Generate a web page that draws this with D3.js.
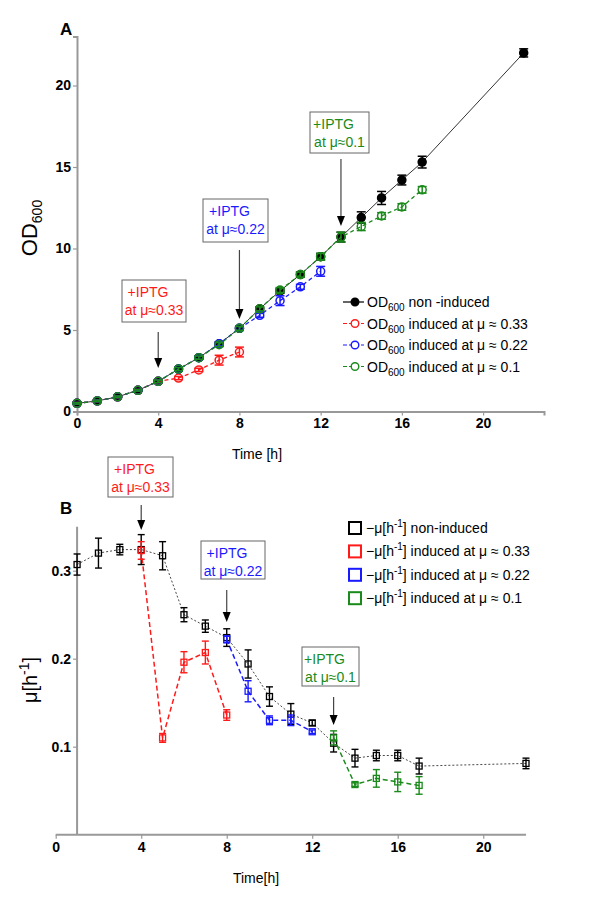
<!DOCTYPE html>
<html><head><meta charset="utf-8">
<script src="https://cdn.jsdelivr.net/npm/d3@7"></script>
<style>body{margin:0;background:#fff}svg{display:block;font-family:Arial,"Liberation Sans",sans-serif}</style>
</head><body>
<svg id="c" width="600" height="898"></svg>
<script>
// ---------- Panel A data ----------
const timeNonA = [0,1,2,3,4,5,6,7,8,9,10,11,12,13,14,15,16,17,22];
const odNon    = [0.5,0.65,0.9,1.3,1.85,2.6,3.3,4.15,5.1,6.3,7.4,8.4,9.5,10.7,11.9,13.1,14.2,15.3,22.0];
const odNonErr = [0.05,0.05,0.05,0.05,0.08,0.1,0.1,0.12,0.12,0.12,0.15,0.15,0.2,0.3,0.35,0.4,0.3,0.36,0.25];
const timeR_A = [0,1,2,3,4,5,6,7,8];
const odR     = [0.5,0.65,0.9,1.3,1.85,2.05,2.55,3.15,3.65];
const odRErr  = [0.05,0.05,0.05,0.05,0.08,0.1,0.1,0.3,0.3];
const timeB_A = [0,1,2,3,4,5,6,7,8,9,10,11,12];
const odB     = [0.5,0.65,0.9,1.3,1.85,2.6,3.3,4.15,5.1,5.9,6.8,7.65,8.6];
const odBErr  = [0.05,0.05,0.05,0.05,0.08,0.1,0.1,0.12,0.12,0.12,0.3,0.15,0.3];
const timeG_A = [0,1,2,3,4,5,6,7,8,9,10,11,12,13,14,15,16,17];
const odG     = [0.5,0.65,0.9,1.3,1.85,2.6,3.3,4.1,5.1,6.3,7.45,8.4,9.5,10.7,11.35,12.0,12.55,13.6];
const odGErr  = [0.05,0.05,0.05,0.05,0.08,0.1,0.1,0.12,0.12,0.12,0.15,0.15,0.2,0.3,0.25,0.2,0.2,0.2];
const xTicksA = [0,4,8,12,16,20];
const yTicksA = [0,5,10,15,20];
const legendA = [" non -induced"," induced at \u03bc \u2248 0.33"," induced at \u03bc \u2248 0.22"," induced at \u03bc \u2248 0.1"];

// ---------- Panel B data ----------
const timeNonB = [1,2,3,4,5,6,7,8,9,10,11,12,13,14,15,16,17,22];
const muNon    = [0.307,0.320,0.324,0.324,0.317,0.250,0.237,0.224,0.194,0.157,0.137,0.127,0.104,0.087,0.090,0.090,0.078,0.081];
const muNonErr = [0.012,0.017,0.006,0.017,0.016,0.008,0.007,0.010,0.016,0.011,0.012,0.003,0.010,0.010,0.006,0.006,0.009,0.006];
const timeR_B = [4,5,6,7,8];
const muR     = [0.323,0.110,0.196,0.207,0.136];
const muRErr  = [0.010,0.005,0.012,0.013,0.006];
const timeB_B = [8,9,10,11,12];
const muB     = [0.222,0.163,0.130,0.130,0.117];
const muBErr  = [0.004,0.012,0.005,0.006,0.002];
const timeG_B = [13,14,15,16,17];
const muG     = [0.110,0.057,0.064,0.060,0.056];
const muGErr  = [0.008,0.002,0.010,0.011,0.010];
const xTicksB = [0,4,8,12,16,20];
const yTicksB = [0.1,0.2,0.3];
const legendB = [" non-induced"," induced at \u03bc \u2248 0.33"," induced at \u03bc \u2248 0.22"," induced at \u03bc \u2248 0.1"];

const colors = ["#000000","#ff1a1a","#1a1aff","#1a8a1a"];
const annotLabels = ["at \u03bc\u22480.33","at \u03bc\u22480.22","at \u03bc\u22480.1"];

const svg = d3.select("#c");
const axisColor = "#999";

function zip(t,v,e){return t.map((d,i)=>({t:d,v:v[i],e:e[i]}));}

// ================= PANEL A =================
const xA = d3.scaleLinear().domain([0,23]).range([77,544]);
const yA = d3.scaleLinear().domain([0,23]).range([411.5,36.6]);
const gA = svg.append("g");

const axXA = gA.append("g").attr("transform","translate(0,411.5)")
  .call(d3.axisBottom(xA).tickValues(xTicksA).tickSize(4).tickPadding(3));
const axYA = gA.append("g").attr("transform","translate(77,0)")
  .call(d3.axisLeft(yA).tickValues(yTicksA).tickSize(4).tickPadding(2));
[axXA,axYA].forEach(a=>{
  a.select(".domain").attr("stroke",axisColor).attr("stroke-width",2);
  a.selectAll(".tick line").attr("stroke",axisColor).attr("stroke-width",1.2);
  a.selectAll(".tick text").attr("fill","#000").attr("font-size",14).attr("font-weight","bold").attr("font-family","Arial,'Liberation Sans'");
});

gA.append("text").attr("x",60).attr("y",35).attr("font-size",17).attr("font-weight","bold").text("A");
gA.append("text").attr("x",257).attr("y",459).attr("text-anchor","middle").attr("font-size",14).text("Time [h]");
const ylA = gA.append("text").attr("transform","translate(37,228) rotate(-90)").attr("text-anchor","middle").attr("font-size",22);
ylA.append("tspan").text("OD");
ylA.append("tspan").attr("font-size",14).attr("dy",5).text("600");

const seriesA = [
  {d:zip(timeNonA,odNon,odNonErr),c:colors[0],dash:null,fill:colors[0],w:1,lc:"#333"},
  {d:zip(timeR_A,odR,odRErr),c:colors[1],dash:"4,3",fill:"none",w:1.3,lc:colors[1]},
  {d:zip(timeB_A,odB,odBErr),c:colors[2],dash:"4,3",fill:"none",w:1.3,lc:colors[2]},
  {d:zip(timeG_A,odG,odGErr),c:colors[3],dash:"4,3",fill:"none",w:1.3,lc:colors[3]}
];
const lineA = d3.line().x(d=>xA(d.t)).y(d=>yA(d.v));
seriesA.forEach(s=>{
  const g = gA.append("g");
  g.append("path").datum(s.d).attr("d",lineA).attr("fill","none").attr("stroke",s.lc)
    .attr("stroke-width",s.w).attr("stroke-dasharray",s.dash);
  const eb = g.selectAll(".eb").data(s.d).enter().append("g");
  eb.append("line").attr("x1",d=>xA(d.t)).attr("x2",d=>xA(d.t)).attr("y1",d=>yA(d.v-d.e)).attr("y2",d=>yA(d.v+d.e)).attr("stroke",s.c).attr("stroke-width",1.5);
  [-1,1].forEach(k=>eb.append("line").attr("x1",d=>xA(d.t)-4.5).attr("x2",d=>xA(d.t)+4.5)
    .attr("y1",d=>yA(d.v+k*d.e)).attr("y2",d=>yA(d.v+k*d.e)).attr("stroke",s.c).attr("stroke-width",1.5));
  g.selectAll("circle").data(s.d).enter().append("circle").attr("cx",d=>xA(d.t)).attr("cy",d=>yA(d.v))
    .attr("r",4).attr("fill",s.fill).attr("stroke",s.c).attr("stroke-width",1.5);
});

legendA.forEach((lab,i)=>{
  const y = 302 + i*21.5;
  const g = gA.append("g");
  g.append("line").attr("x1",343).attr("x2",364).attr("y1",y).attr("y2",y).attr("stroke",colors[i]).attr("stroke-width",1.2).attr("stroke-dasharray",i?"4,2":null);
  g.append("circle").attr("cx",355).attr("cy",y).attr("r",3.8).attr("fill",i?"#fff":"#000").attr("stroke",colors[i]).attr("stroke-width",1.4);
  const t = g.append("text").attr("x",367).attr("y",y+5).attr("font-size",14);
  t.append("tspan").text("OD");
  t.append("tspan").attr("font-size",10).attr("dy",4).text("600");
  t.append("tspan").attr("dy",-4).text(lab);
});

function annot(g,bx,by,bw,bh,col,label,ax,ay1,ay2){
  g.append("rect").attr("x",bx).attr("y",by).attr("width",bw).attr("height",bh).attr("fill","#fff").attr("stroke","#666").attr("stroke-width",1);
  g.append("text").attr("x",bx+bw/2-6).attr("y",by+17).attr("text-anchor","middle").attr("fill",col).attr("font-size",14).text("+IPTG");
  g.append("text").attr("x",bx+bw/2).attr("y",by+35).attr("text-anchor","middle").attr("fill",col).attr("font-size",14).text(label);
  g.append("line").attr("x1",ax).attr("x2",ax).attr("y1",ay1).attr("y2",ay2-9).attr("stroke","#444").attr("stroke-width",1.2);
  g.append("path").attr("d",`M${ax-4},${ay2-10}L${ax+4},${ay2-10}L${ax},${ay2}Z`).attr("fill","#000");
}
annot(gA,122,280,64,42,colors[1],annotLabels[0],xA(4),332,368);
annot(gA,203,199,65,43,colors[2],annotLabels[1],xA(8),250,319);
annot(gA,310,112,59,41,colors[3],annotLabels[2],xA(13),159,226);

// ================= PANEL B =================
const xB = d3.scaleLinear().domain([0,22]).range([55.7,526]);
const yB = d3.scaleLinear().domain([0,0.35]).range([834.7,526.7]);
const gB = svg.append("g");
const axXB = gB.append("g").attr("transform","translate(0,834.7)")
  .call(d3.axisBottom(xB).tickValues(xTicksB).tickSize(4).tickPadding(3));
const axYB = gB.append("g").attr("transform",`translate(${xB(1)},0)`)
  .call(d3.axisLeft(yB).tickValues(yTicksB).tickFormat(d3.format(".1f")).tickSize(4).tickPadding(2));
[axXB,axYB].forEach(a=>{
  a.select(".domain").attr("stroke",axisColor).attr("stroke-width",2);
  a.selectAll(".tick line").attr("stroke",axisColor).attr("stroke-width",1.2);
  a.selectAll(".tick text").attr("fill","#000").attr("font-size",14).attr("font-weight","bold").attr("font-family","Arial,'Liberation Sans'");
});
axXB.select(".domain").attr("d",`M${xB(0)},0H${xB(22)}`);
axYB.select(".domain").attr("d",`M0,${yB(0.35)}V${yB(0)}`);

gB.append("text").attr("x",60).attr("y",514).attr("font-size",17).attr("font-weight","bold").text("B");
gB.append("text").attr("x",256).attr("y",883).attr("text-anchor","middle").attr("font-size",14).text("Time[h]");
const ylB = gB.append("text").attr("transform","translate(37,680) rotate(-90)").attr("text-anchor","middle").attr("font-size",20);
ylB.append("tspan").text("\u03bc[h");
ylB.append("tspan").attr("font-size",14).attr("dy",-8).text("-1");
ylB.append("tspan").attr("dy",8).text("]");

const seriesB = [
  {d:zip(timeNonB,muNon,muNonErr),c:colors[0],dash:"2,2",w:0.9,lc:"#333"},
  {d:zip(timeR_B,muR,muRErr),c:colors[1],dash:"5,3",w:1.5,lc:colors[1]},
  {d:zip(timeB_B,muB,muBErr),c:colors[2],dash:"5,3",w:1.5,lc:colors[2]},
  {d:zip(timeG_B,muG,muGErr),c:colors[3],dash:"5,3",w:1.5,lc:colors[3]}
];
const lineB = d3.line().x(d=>xB(d.t)).y(d=>yB(d.v));
seriesB.forEach(s=>{
  const g = gB.append("g");
  g.append("path").datum(s.d).attr("d",lineB).attr("fill","none").attr("stroke",s.lc)
    .attr("stroke-width",s.w).attr("stroke-dasharray",s.dash);
  const eb = g.selectAll(".eb").data(s.d).enter().append("g");
  eb.append("line").attr("x1",d=>xB(d.t)).attr("x2",d=>xB(d.t)).attr("y1",d=>yB(d.v-d.e)).attr("y2",d=>yB(d.v+d.e)).attr("stroke",s.c).attr("stroke-width",1.4);
  [-1,1].forEach(k=>eb.append("line").attr("x1",d=>xB(d.t)-3.5).attr("x2",d=>xB(d.t)+3.5)
    .attr("y1",d=>yB(d.v+k*d.e)).attr("y2",d=>yB(d.v+k*d.e)).attr("stroke",s.c).attr("stroke-width",1.4));
  g.selectAll("rect").data(s.d).enter().append("rect").attr("x",d=>xB(d.t)-3).attr("y",d=>yB(d.v)-3)
    .attr("width",6).attr("height",6).attr("fill","none").attr("stroke",s.c).attr("stroke-width",1.3);
});

legendB.forEach((lab,i)=>{
  const y = 528 + i*23.4;
  const g = gB.append("g");
  g.append("rect").attr("x",349).attr("y",y-6).attr("width",12).attr("height",12).attr("fill","none").attr("stroke",colors[i]).attr("stroke-width",2);
  const t = g.append("text").attr("x",366).attr("y",y+5).attr("font-size",14);
  t.append("tspan").text("\u2212\u03bc[h");
  t.append("tspan").attr("font-size",10).attr("dy",-6).text("-1");
  t.append("tspan").attr("dy",6).text("]"+lab);
});

annot(gB,108,457,65,40,colors[1],annotLabels[0],xB(4),505,530);
annot(gB,201,541,64,38,colors[2],annotLabels[1],xB(8),590,622);
annot(gB,302,647,57,39,colors[3],annotLabels[2],xB(13),697,725);
</script>
</body></html>
